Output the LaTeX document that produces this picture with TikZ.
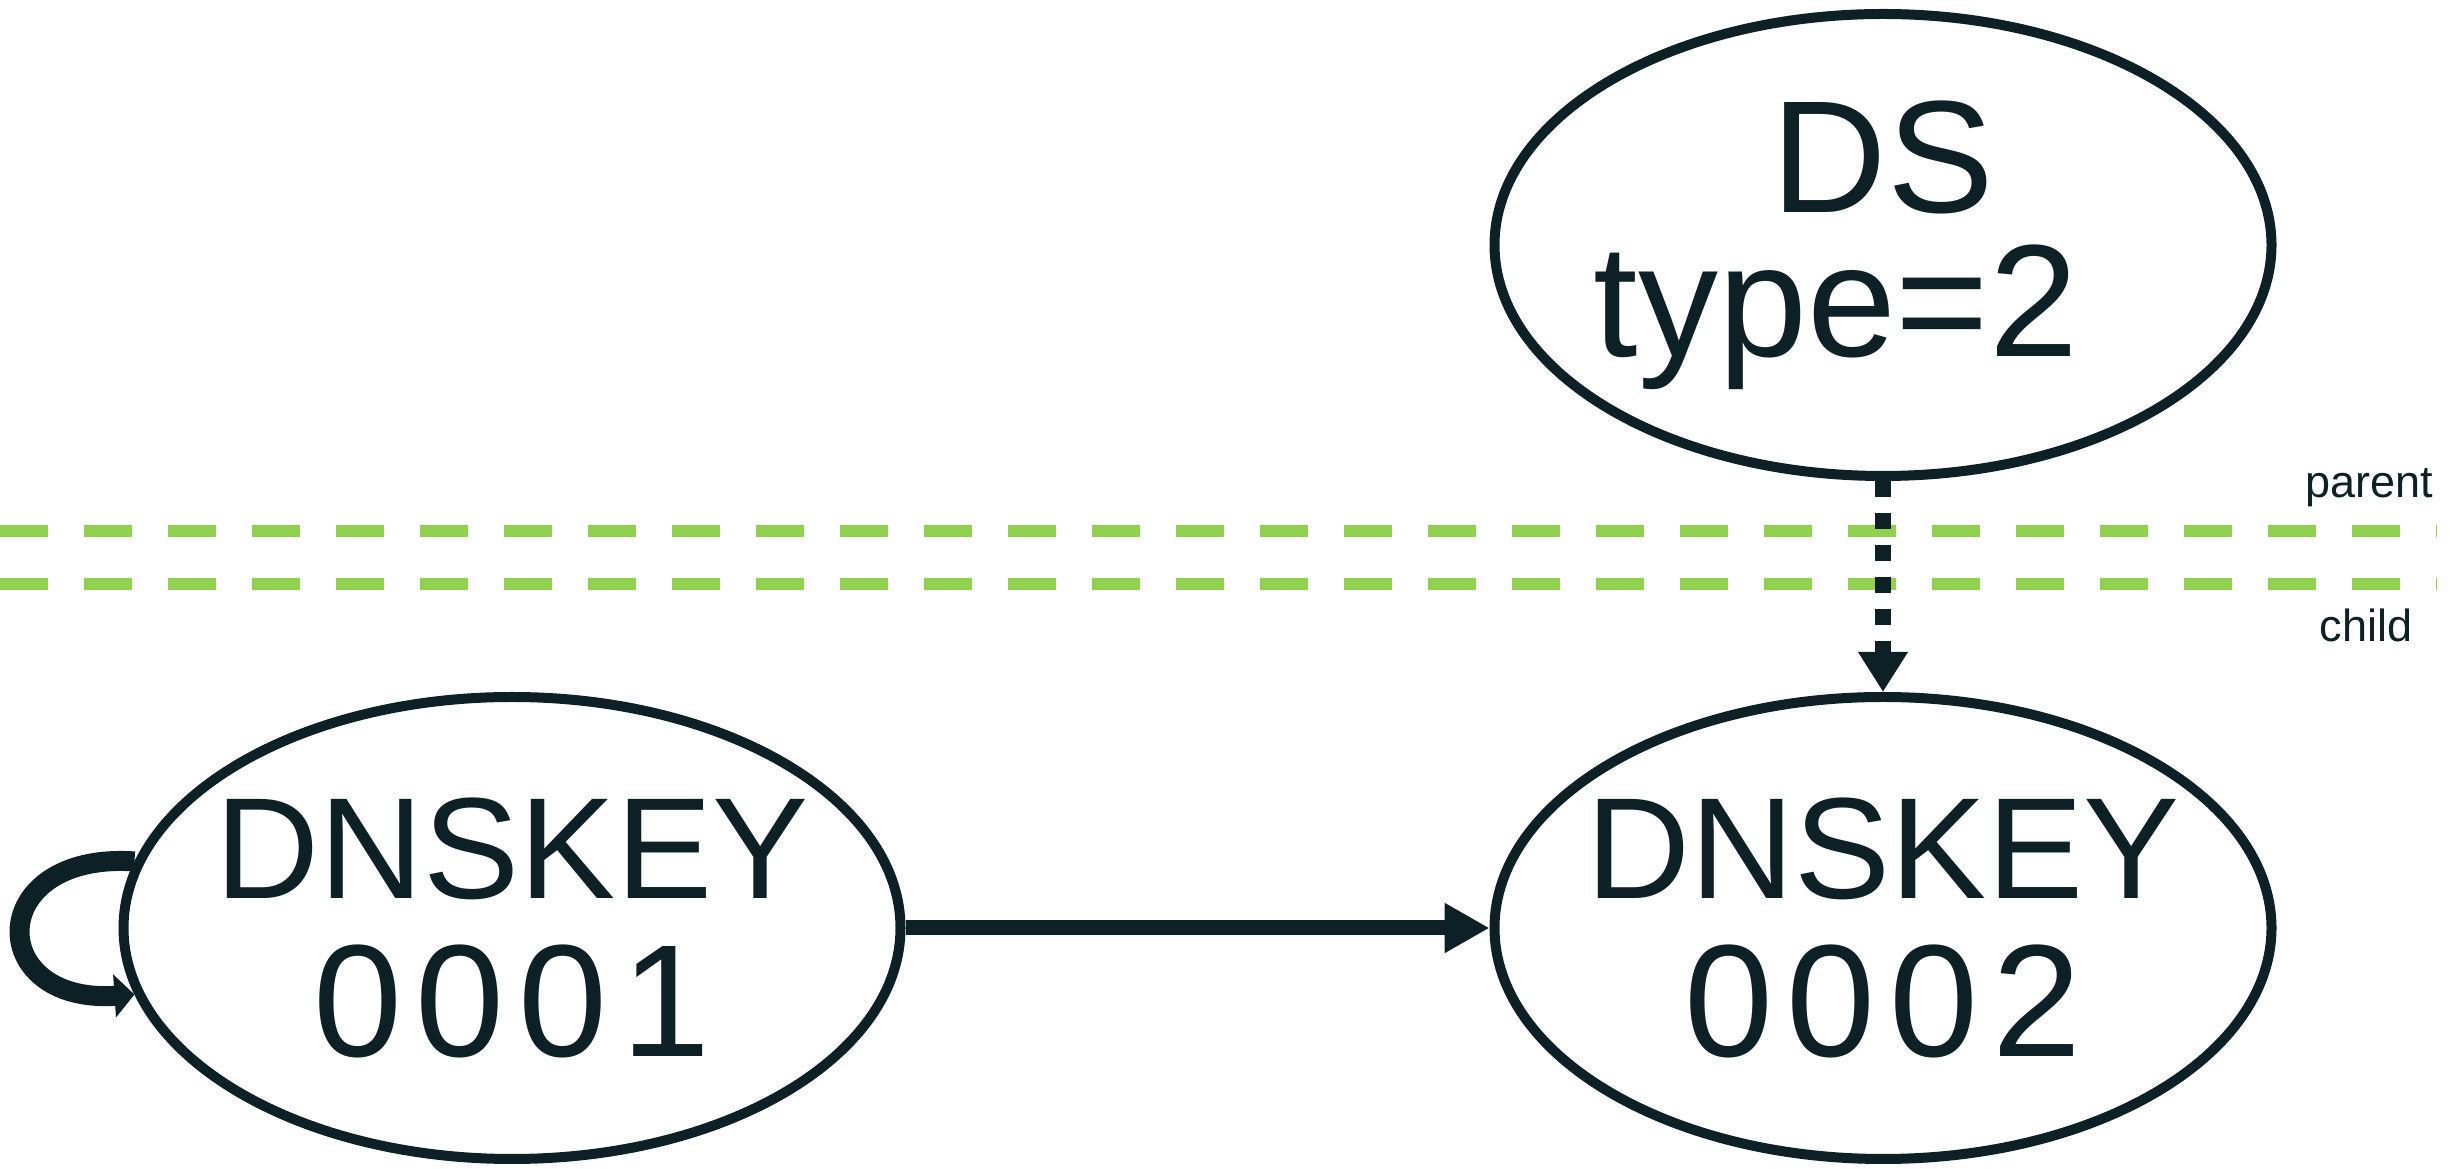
\documentclass[tikz,border=0pt]{standalone}
\usepackage{fontspec}
\setmainfont{Liberation Sans}
\usetikzlibrary{arrows.meta,shapes.geometric}
\definecolor{ink}{RGB}{12,32,38}
\definecolor{zonecut}{RGB}{146,208,80}
\tikzstyle{rr} = [ellipse, draw=ink, line width=1mm, minimum width=7.77cm, minimum height=4.62cm, inner sep=-1cm, text=ink, align=center, font=\fontsize{45.5}{45.2}\selectfont]
\tikzstyle{cut} = [zonecut, line width=1.2mm, dash pattern=on 4.8mm off 3.6mm]
\tikzstyle{side} = [text=ink, font=\fontsize{12.8}{14}\selectfont, anchor=base east, inner sep=0pt]
\tikzstyle{arrow} = [ink, line width=1.5mm, -{Triangle[length=4.5mm,width=4.7mm]}]
\tikzstyle{dsarrow} = [ink, line width=1.6mm, dash pattern=on 1.6mm off 1.6mm, -{Triangle[length=4mm,width=4.7mm]}]
\tikzstyle{selfarrow} = [ink, line width=2mm, -{Triangle[length=2mm,width=4.2mm]}]
\newcommand{\owner}[1]{{\fontsize{41}{45.2}\selectfont #1}}
\newcommand{\keytag}[1]{{\addfontfeature{LetterSpace=8.8}#1}}

\begin{document}
\begin{tikzpicture}
    \useasboundingbox (0,0) rectangle (24.5,11.69);

    % zone cut
    \draw [cut] (0,6.38) -- (24.37,6.38);
    \draw [cut] (0,5.85) -- (24.37,5.85);
    \node (parent) [side] at (24.34,6.71) {parent};
    \node (child) [side] at (24.13,5.27) {child};

    \node (ds) [rr, font=\fontsize{45.5}{41}\selectfont] at (18.83,9.24) {DS\\type=2\hspace*{9.4mm}};
    \node (key1) [rr] at (5.12,2.41) {\owner{DNSKEY}\\\keytag{0001}};
    \node (key2) [rr] at (18.83,2.41) {\owner{DNSKEY}\\\keytag{0002}};

    \draw [arrow] (key1) -- (key2);
    \draw [dsarrow] (ds) -- (key2);
    \draw [selfarrow] (key1.170) .. controls +(-1.5,0.1) and +(-1.5,-0.1) .. (key1.190);
\end{tikzpicture}
\end{document}
